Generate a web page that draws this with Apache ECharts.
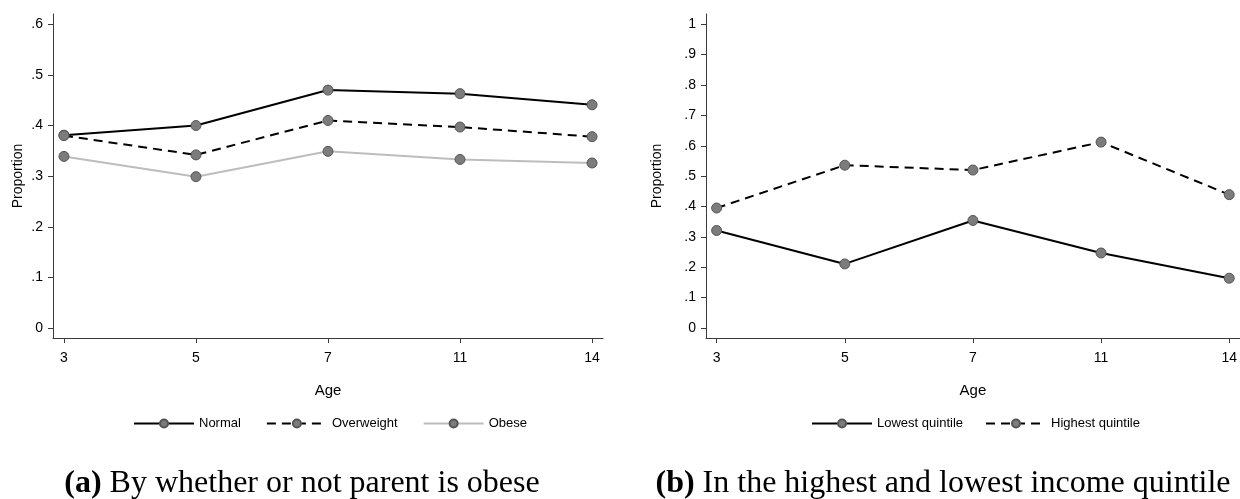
<!DOCTYPE html>
<html>
<head>
<meta charset="utf-8">
<script src="https://cdn.jsdelivr.net/npm/echarts@6/dist/echarts.min.js"></script>
<style>
  html, body { margin: 0; padding: 0; background: #fff; }
  #chart { width: 1240px; height: 499px; }
</style>
</head>
<body>
<div id="chart"></div>
<script>
// Ages at which proportions were measured (evenly spaced on the axis)
const ages = ['3', '5', '7', '11', '14'];

// Panel (a): by parental obesity status
const normal     = [0.381, 0.400, 0.470, 0.463, 0.441];
const overweight = [0.380, 0.342, 0.410, 0.397, 0.378];
const obese      = [0.339, 0.299, 0.349, 0.333, 0.326];

// Panel (b): lowest vs highest income quintile
const lowestQuintile  = [0.321, 0.211, 0.354, 0.247, 0.164];
const highestQuintile = [0.395, 0.536, 0.520, 0.612, 0.439];

// Tick values for the y axes
const ticksA = [0, 0.1, 0.2, 0.3, 0.4, 0.5, 0.6];
const ticksB = [0, 0.1, 0.2, 0.3, 0.4, 0.5, 0.6, 0.7, 0.8, 0.9, 1];

const FONT = '"Liberation Sans", Arial, sans-serif';
const SERIF = '"Liberation Serif", "Times New Roman", serif';
const AXIS_COLOR = '#3a3a3a';

function fmtProp(v) {
  if (v === 0) return '0';
  if (v === 1) return '1';
  return v.toFixed(1).replace(/^0/, '');
}

function pts(values) {
  return values.map((v, i) => [i, v]);
}

function xAxis(gridIndex) {
  const idx = ages.map((_, i) => i);
  return {
    type: 'value', gridIndex,
    min: -0.083, max: ages.length - 1 + 0.083,
    name: 'Age', nameLocation: 'middle', nameGap: 45,
    nameTextStyle: { fontFamily: FONT, fontSize: 15, color: '#000' },
    splitLine: { show: false },
    axisLine: { onZero: false, lineStyle: { color: AXIS_COLOR, width: 1 } },
    axisTick: { customValues: idx, length: 5, lineStyle: { color: AXIS_COLOR } },
    axisLabel: {
      customValues: idx, margin: 13,
      fontFamily: FONT, fontSize: 14, color: '#000',
      formatter: v => ages[Math.round(v)]
    }
  };
}

function yAxis(gridIndex, ticks, min, max, nameGap) {
  return {
    type: 'value', gridIndex, min, max,
    name: 'Proportion', nameLocation: 'middle', nameGap,
    nameTextStyle: { fontFamily: FONT, fontSize: 14, color: '#000' },
    splitLine: { show: false },
    axisLine: { show: true, onZero: false, lineStyle: { color: AXIS_COLOR, width: 1 } },
    axisTick: { show: true, customValues: ticks, length: 5, lineStyle: { color: AXIS_COLOR } },
    axisLabel: {
      customValues: ticks, margin: 10,
      fontFamily: FONT, fontSize: 14, color: '#000',
      formatter: fmtProp
    }
  };
}

function line(name, values, color, type, axisIndex) {
  return {
    name, type: 'line', data: pts(values),
    xAxisIndex: axisIndex, yAxisIndex: axisIndex,
    symbol: 'circle', symbolSize: 10,
    lineStyle: { color, width: 2, type: type === 'dashed' ? [9, 6] : 'solid' },
    itemStyle: { color: '#7c7c7c', borderColor: '#555', borderWidth: 1 },
    emphasis: { disabled: true },
    z: 2
  };
}

const legendText = { fontFamily: FONT, fontSize: 13, color: '#000' };

function caption(letter, text, center) {
  return {
    text: '{b|(' + letter + ')} ' + text,
    left: center, top: 463, textAlign: 'center',
    textStyle: {
      fontFamily: SERIF, fontSize: 32, fontWeight: 'normal', color: '#000',
      rich: { b: { fontFamily: SERIF, fontSize: 32, fontWeight: 'bold' } }
    }
  };
}

const option = {
  animation: false,
  backgroundColor: '#fff',
  grid: [
    { left: 53, top: 14, width: 550, height: 324 },
    { left: 706, top: 14, width: 535, height: 324 }
  ],
  xAxis: [xAxis(0), xAxis(1)],
  yAxis: [
    yAxis(0, ticksA, -0.0197, 0.6203, 28),
    yAxis(1, ticksB, -0.0329, 1.0338, 42)
  ],
  legend: [
    {
      data: ['Normal', 'Overweight', 'Obese'],
      left: 128, top: 412, itemWidth: 60, itemHeight: 10, itemGap: 25,
      textStyle: legendText, selectedMode: false
    },
    {
      data: ['Lowest quintile', 'Highest quintile'],
      left: 806, top: 412, itemWidth: 60, itemHeight: 10, itemGap: 22,
      textStyle: legendText, selectedMode: false
    }
  ],
  title: [
    caption('a', 'By whether or not parent is obese', 297),
    caption('b', 'In the highest and lowest income quintile', 938)
  ],
  series: [
    line('Normal', normal, '#000', 'solid', 0),
    line('Overweight', overweight, '#000', 'dashed', 0),
    line('Obese', obese, '#bdbdbd', 'solid', 0),
    line('Lowest quintile', lowestQuintile, '#000', 'solid', 1),
    line('Highest quintile', highestQuintile, '#000', 'dashed', 1)
  ]
};

echarts.init(document.getElementById('chart'), null, { renderer: 'canvas' }).setOption(option);
</script>
</body>
</html>
